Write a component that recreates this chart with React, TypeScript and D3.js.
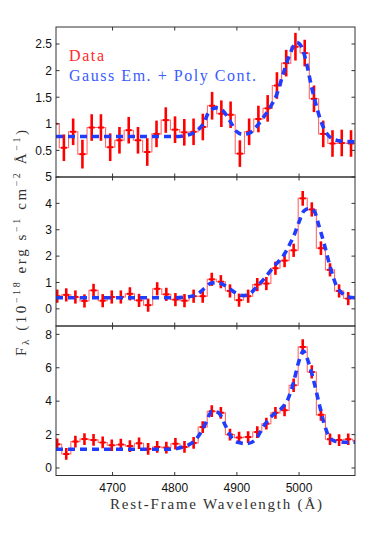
import React from "react";
import * as d3 from "d3";

const W = 374;
const H = 544;
const X0 = 56;
const X1 = 355;
const xDomain = [4609, 5090];
const xTicks = [4700, 4800, 4900, 5000];

// top panel: binned spectrum + fit
const wave1 = [4606.8, 4621.7, 4636.6, 4651.5, 4666.4, 4681.3, 4696.2, 4711.1, 4726.0, 4740.9, 4755.8, 4770.7, 4785.6, 4800.5, 4815.4, 4830.3, 4845.2, 4860.1, 4875.0, 4889.9, 4904.8, 4919.7, 4934.6, 4949.5, 4964.4, 4979.3, 4994.2, 5009.1, 5024.0, 5038.9, 5053.8, 5068.7, 5083.6, 5098.5];
const flux1 = [1.0, 0.55, 0.85, 0.43, 0.93, 0.93, 0.56, 0.69, 0.88, 0.69, 0.47, 0.81, 1.07, 0.89, 0.84, 0.85, 0.94, 1.34, 1.19, 1.17, 0.44, 0.85, 1.09, 1.29, 1.72, 2.14, 2.45, 2.33, 1.47, 0.81, 0.63, 0.64, 0.63, 0.63];
const err1 = [0.25, 0.25, 0.25, 0.27, 0.25, 0.25, 0.26, 0.25, 0.25, 0.25, 0.26, 0.25, 0.24, 0.25, 0.25, 0.25, 0.25, 0.26, 0.25, 0.25, 0.25, 0.25, 0.25, 0.25, 0.25, 0.25, 0.26, 0.25, 0.25, 0.25, 0.25, 0.25, 0.25, 0.25];
const modelWave1 = [4609, 4700, 4800, 4824, 4846, 4856, 4867, 4878, 4889, 4899, 4910, 4921, 4931, 4942, 4953, 4964, 4974, 4985, 4996, 5004, 5012, 5020, 5028, 5036, 5044, 5055, 5071, 5090];
const modelFlux1 = [0.76, 0.76, 0.76, 0.8, 1.0, 1.24, 1.3, 1.24, 1.05, 0.86, 0.8, 0.83, 0.94, 1.11, 1.3, 1.55, 1.92, 2.3, 2.53, 2.45, 2.14, 1.7, 1.33, 1.02, 0.83, 0.71, 0.67, 0.66];
const yTicks1 = [0.5, 1, 1.5, 2, 2.5];

// middle panel
const wave2 = [4610.9, 4625.5, 4640.2, 4654.8, 4669.4, 4684.1, 4698.7, 4713.3, 4727.9, 4742.6, 4757.2, 4771.8, 4786.5, 4801.1, 4815.7, 4830.4, 4845.0, 4859.6, 4874.2, 4888.9, 4903.5, 4918.1, 4932.8, 4947.4, 4962.0, 4976.7, 4991.3, 5005.9, 5020.5, 5035.2, 5049.8, 5064.4, 5079.1, 5093.7];
const flux2 = [0.48, 0.53, 0.45, 0.3, 0.7, 0.31, 0.45, 0.45, 0.57, 0.32, 0.14, 0.76, 0.55, 0.35, 0.31, 0.48, 0.48, 1.12, 1.03, 0.68, 0.33, 0.48, 0.92, 0.96, 1.54, 1.83, 2.22, 4.19, 3.77, 2.3, 1.48, 0.68, 0.39, 0.4];
const err2 = [0.25, 0.25, 0.25, 0.25, 0.25, 0.25, 0.25, 0.25, 0.25, 0.25, 0.25, 0.25, 0.25, 0.25, 0.25, 0.25, 0.25, 0.25, 0.25, 0.25, 0.25, 0.25, 0.25, 0.25, 0.25, 0.25, 0.25, 0.28, 0.27, 0.26, 0.25, 0.25, 0.25, 0.25];
const modelWave2 = [4609, 4700, 4800, 4825, 4838, 4848, 4858, 4868, 4878, 4889, 4900, 4910, 4920, 4932, 4945, 4960, 4975, 4985, 4993, 5000, 5008, 5016, 5024, 5032, 5040, 5050, 5060, 5071, 5080, 5090];
const modelFlux2 = [0.42, 0.42, 0.42, 0.47, 0.58, 0.78, 0.97, 1.0, 0.92, 0.75, 0.58, 0.5, 0.56, 0.84, 1.17, 1.62, 2.02, 2.45, 2.85, 3.3, 3.72, 3.8, 3.72, 3.15, 2.5, 1.6, 0.88, 0.56, 0.45, 0.42];
const yTicks2 = [0, 1, 2, 3, 4, 5];

// bottom panel
const wave3 = wave2;
const flux3 = [1.42, 0.84, 1.58, 1.73, 1.68, 1.53, 1.36, 1.4, 1.31, 1.48, 1.14, 1.26, 1.22, 1.45, 1.26, 1.5, 2.45, 3.4, 3.3, 2.0, 1.82, 1.85, 2.15, 2.65, 3.3, 3.45, 4.95, 7.25, 5.75, 3.18, 1.72, 1.67, 1.72, 1.62];
const err3 = [0.35, 0.35, 0.35, 0.35, 0.35, 0.35, 0.35, 0.35, 0.35, 0.35, 0.35, 0.35, 0.35, 0.35, 0.35, 0.35, 0.35, 0.35, 0.35, 0.35, 0.35, 0.35, 0.35, 0.35, 0.35, 0.35, 0.4, 0.45, 0.4, 0.35, 0.35, 0.35, 0.35, 0.35];
const modelWave3 = [4609, 4700, 4790, 4805, 4815, 4830, 4841, 4850, 4860, 4870, 4882, 4892, 4903, 4916, 4930, 4943, 4957, 4970, 4983, 4991, 4999, 5007, 5015, 5023, 5032, 5040, 5048, 5058, 5072, 5090];
const modelFlux3 = [1.12, 1.12, 1.12, 1.18, 1.28, 1.56, 2.06, 2.7, 3.4, 3.32, 2.5, 1.8, 1.52, 1.46, 1.7, 2.5, 3.14, 3.5, 4.2, 5.1, 6.3, 7.0, 6.35, 5.3, 3.9, 2.7, 1.9, 1.6, 1.54, 1.54];
const yTicks3 = [0, 2, 4, 6, 8];

const RED = "#ff0000";
const BLUE = "#1f3cff";
const AXIS = "#333";
const sans = "'Liberation Sans', Arial, sans-serif";
const serif = "'Liberation Serif', 'Times New Roman', serif";

type PanelProps = {
  id: string;
  top: number;
  bottom: number;
  yDomain: number[];
  wave: number[];
  flux: number[];
  err: number[];
  mWave: number[];
  mFlux: number[];
  yTicks: number[];
  showX: boolean;
};

function Panel({ id, top, bottom, yDomain, wave, flux, err, mWave, mFlux, yTicks, showX }: PanelProps) {
  const x = d3.scaleLinear().domain(xDomain).range([X0, X1]);
  const y = d3.scaleLinear().domain(yDomain).range([bottom, top]);

  // step histogram from bin edges halfway between centres
  const pts: [number, number][] = [];
  wave.forEach((w, i) => {
    const prev = i > 0 ? wave[i - 1] : w - (wave[1] - wave[0]);
    const next = i < wave.length - 1 ? wave[i + 1] : w + (w - wave[i - 1]);
    pts.push([x((prev + w) / 2), y(flux[i])]);
    pts.push([x((w + next) / 2), y(flux[i])]);
  });
  const hist = d3.line()(pts) || "";

  const model =
    d3
      .line<number>()
      .x((d) => x(d))
      .y((d, i) => y(mFlux[i]))
      .curve(d3.curveMonotoneX)(mWave) || "";

  const tl = 3.5;
  return (
    <g>
      <clipPath id={id}>
        <rect x={X0} y={top} width={X1 - X0} height={bottom - top} />
      </clipPath>
      <g clipPath={`url(#${id})`}>
        <path d={hist} fill="none" stroke="#ff6a6a" strokeWidth={1.1} />
        {wave.map((w, i) => (
          <g key={i} stroke={RED}>
            <line x1={x(w)} x2={x(w)} y1={y(flux[i] - err[i])} y2={y(flux[i] + err[i])} strokeWidth={2.6} />
            <line x1={x(w) - 3} x2={x(w) + 3} y1={y(flux[i])} y2={y(flux[i])} strokeWidth={2} />
          </g>
        ))}
        <path d={model} fill="none" stroke={BLUE} strokeWidth={3.6} strokeDasharray="7 5" />
      </g>
      {/* frame */}
      <rect x={X0} y={top} width={X1 - X0} height={bottom - top} fill="none" stroke={AXIS} strokeWidth={1} />
      {xTicks.map((t) => (
        <g key={t} stroke={AXIS}>
          <line x1={x(t)} x2={x(t)} y1={top} y2={top + tl} />
          <line x1={x(t)} x2={x(t)} y1={bottom} y2={bottom - tl} />
        </g>
      ))}
      {yTicks.map((t) => (
        <g key={t}>
          <line x1={X0} x2={X0 + tl} y1={y(t)} y2={y(t)} stroke={AXIS} />
          <line x1={X1} x2={X1 - tl} y1={y(t)} y2={y(t)} stroke={AXIS} />
          <text x={52} y={y(t) + 4.3} textAnchor="end" fontFamily={sans} fontSize={12} fill="#111">
            {String(t)}
          </text>
        </g>
      ))}
      {showX &&
        xTicks.map((t) => (
          <text key={t} x={x(t)} y={492} textAnchor="middle" fontFamily={sans} fontSize={12} fill="#111">
            {String(t)}
          </text>
        ))}
    </g>
  );
}

export default function App() {
  return (
    <svg width={W} height={H} style={{ position: "absolute", left: 0, top: 0, background: "#fff" }}>
      <rect width={W} height={H} fill="#fff" />
      <Panel id="p1" top={27} bottom={177} yDomain={[0, 2.82]} wave={wave1} flux={flux1} err={err1} mWave={modelWave1} mFlux={modelFlux1} yTicks={yTicks1} showX={false} />
      <Panel id="p2" top={177} bottom={326} yDomain={[-0.65, 5]} wave={wave2} flux={flux2} err={err2} mWave={modelWave2} mFlux={modelFlux2} yTicks={yTicks2} showX={false} />
      <Panel id="p3" top={326} bottom={475.5} yDomain={[-0.45, 8.5]} wave={wave3} flux={flux3} err={err3} mWave={modelWave3} mFlux={modelFlux3} yTicks={yTicks3} showX={true} />

      <text x={69} y={60.7} fontFamily={serif} fontSize={16} fill="#ff2a2a" textLength={35} lengthAdjust="spacing">
        Data
      </text>
      <text x={69} y={80.5} fontFamily={serif} fontSize={16} fill="#3a5cff" textLength={187} lengthAdjust="spacing">
        Gauss Em. + Poly Cont.
      </text>

      <text x={110} y={509} fontFamily={serif} fontSize={15} fill="#333" textLength={212} lengthAdjust="spacing">
        Rest-Frame Wavelength (Å)
      </text>

      <text transform="translate(25.5,356) rotate(-90)" fontFamily={serif} fontSize={15} fill="#333" textLength={226} lengthAdjust="spacing">
        <tspan>F</tspan>
        <tspan fontSize={11} dy={3}>λ</tspan>
        <tspan dy={-3}> (10</tspan>
        <tspan fontSize={10} dy={-6}>−18</tspan>
        <tspan dy={6}> erg s</tspan>
        <tspan fontSize={10} dy={-6}>−1</tspan>
        <tspan dy={6}> cm</tspan>
        <tspan fontSize={10} dy={-6}>−2</tspan>
        <tspan dy={6}> Å</tspan>
        <tspan fontSize={10} dy={-6}>−1</tspan>
        <tspan dy={6}>)</tspan>
      </text>
    </svg>
  );
}
